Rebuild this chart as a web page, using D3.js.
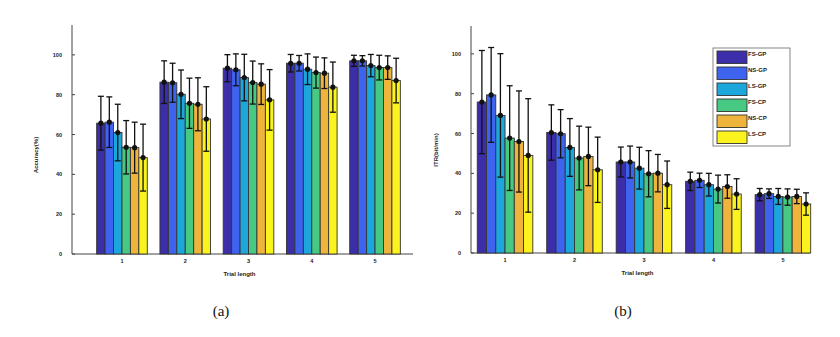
<!DOCTYPE html>
<html>
<head>
<meta charset="utf-8">
<script src="https://cdn.jsdelivr.net/npm/d3@7"></script>
<style>
  body { margin: 0; background: #fff; }
  svg { display: block; }
</style>
</head>
<body>
<div id="chart"></div>
<script>
// categories and series
const trialLengths = [1, 2, 3, 4, 5];
const methods = ['FS-GP', 'NS-GP', 'LS-GP', 'FS-CP', 'NS-CP', 'LS-CP'];
const methodColors = ['#3b2ea8', '#3e63ef', '#1ca7dc', '#47c983', '#eeb43c', '#faf31e'];
const yTicks = [0, 20, 40, 60, 80, 100];

// (a) accuracy, mean and error half-width per method, one value per trial length
const accMean = [
    [65.7, 86.3, 93.3, 95.8, 97.0],
    [66.2, 86.0, 92.5, 95.8, 97.0],
    [61.0, 80.2, 88.6, 92.8, 94.6],
    [53.6, 75.7, 86.1, 91.1, 93.6],
    [53.4, 75.2, 85.3, 90.8, 93.6],
    [48.4, 67.8, 77.4, 83.8, 87.1]
];
const accErr = [
    [13.5, 10.7, 6.8, 4.4, 2.8],
    [12.7, 9.8, 8.0, 3.9, 2.6],
    [14.2, 12.2, 11.7, 7.7, 5.6],
    [13.4, 12.6, 10.8, 7.8, 6.2],
    [12.8, 13.3, 10.2, 7.7, 5.9],
    [16.8, 16.2, 15.2, 12.6, 11.2]
];

// (b) ITR (bit/min)
const itrMean = [
    [75.8, 60.5, 45.7, 36.0, 29.3],
    [79.4, 59.9, 45.7, 36.5, 29.8],
    [69.1, 53.0, 42.6, 34.3, 28.4],
    [57.7, 47.7, 39.8, 32.1, 28.1],
    [56.0, 48.5, 40.1, 33.4, 28.4],
    [49.0, 41.8, 34.3, 29.6, 24.6]
];
const itrErr = [
    [25.9, 13.9, 7.5, 4.6, 3.1],
    [23.8, 12.1, 8.0, 3.6, 2.4],
    [31.0, 14.5, 10.5, 5.7, 4.0],
    [26.3, 16.0, 11.6, 7.0, 4.1],
    [25.4, 14.7, 9.4, 5.9, 3.6],
    [28.5, 16.4, 11.9, 7.7, 5.6]
];

const svg = d3.select('#chart').append('svg')
    .attr('width', 840)
    .attr('height', 337);

function drawPanel(cfg) {
    const g = svg.append('g');

    const x = d3.scaleLinear().domain(cfg.xDomain).range(cfg.xRange);
    const y = d3.scaleLinear().domain(cfg.yDomain).range(cfg.yRange);

    const spacing = x(2) - x(1);
    const groupW = spacing * 0.8;
    const barW = groupW / methods.length;

    // axis lines
    g.append('line')
        .attr('x1', x.range()[0]).attr('x2', x.range()[0])
        .attr('y1', y.range()[1]).attr('y2', y(0))
        .attr('stroke', '#444').attr('stroke-width', 1);
    g.append('line')
        .attr('x1', x.range()[0]).attr('x2', x.range()[1])
        .attr('y1', y(0)).attr('y2', y(0))
        .attr('stroke', '#444').attr('stroke-width', 1);

    // y ticks (inward) + labels
    g.selectAll('.ytick')
        .data(yTicks)
        .join('line')
            .attr('x1', x.range()[0]).attr('x2', x.range()[0] + 3)
            .attr('y1', d => y(d)).attr('y2', d => y(d))
            .attr('stroke', '#444');
    g.selectAll('.ylab')
        .data(yTicks)
        .join('text')
            .attr('x', x.range()[0] - 10)
            .attr('y', d => y(d) + 2)
            .attr('text-anchor', 'end')
            .attr('font-family', 'Liberation Sans, Arial, sans-serif')
            .attr('font-size', '5.5px')
            .attr('font-weight', 'bold')
            .attr('fill', '#222')
            .text(d => d);

    // x labels
    g.selectAll('.xlab')
        .data(trialLengths)
        .join('text')
            .attr('x', d => x(d))
            .attr('y', y(0) + 9)
            .attr('text-anchor', 'middle')
            .attr('font-family', 'Liberation Sans, Arial, sans-serif')
            .attr('font-size', '5.5px')
            .attr('font-weight', 'bold')
            .attr('fill', '#222')
            .text(d => d);

    // bars
    methods.forEach((m, i) => {
        const offset = -groupW / 2 + i * barW;
        const rows = trialLengths.map((t, j) => ({ t, v: cfg.mean[i][j], e: cfg.err[i][j] }));

        g.append('g').selectAll('rect')
            .data(rows)
            .join('rect')
                .attr('x', d => x(d.t) + offset)
                .attr('y', d => y(d.v))
                .attr('width', barW)
                .attr('height', d => y(0) - y(d.v))
                .attr('fill', methodColors[i])
                .attr('stroke', '#333')
                .attr('stroke-width', 0.9);

        const eg = g.append('g');
        const cx = d => x(d.t) + offset + barW / 2;
        eg.selectAll('.eb')
            .data(rows)
            .join('line')
                .attr('x1', cx).attr('x2', cx)
                .attr('y1', d => y(d.v + d.e)).attr('y2', d => y(d.v - d.e))
                .attr('stroke', '#111').attr('stroke-width', 1.3);
        ['+', '-'].forEach(s => {
            eg.selectAll('.cap' + (s === '+' ? 'u' : 'd'))
                .data(rows)
                .join('line')
                    .attr('x1', d => cx(d) - 3).attr('x2', d => cx(d) + 3)
                    .attr('y1', d => y(s === '+' ? d.v + d.e : d.v - d.e))
                    .attr('y2', d => y(s === '+' ? d.v + d.e : d.v - d.e))
                    .attr('stroke', '#111').attr('stroke-width', 1.3);
        });
        eg.selectAll('circle')
            .data(rows)
            .join('circle')
                .attr('cx', cx)
                .attr('cy', d => y(d.v))
                .attr('r', 2.6)
                .attr('fill', '#111');
    });

    // axis titles
    g.append('text')
        .attr('x', (x.range()[0] + x.range()[1]) / 2 - 3)
        .attr('y', y(0) + 22)
        .attr('text-anchor', 'middle')
        .attr('font-family', 'Liberation Sans, Arial, sans-serif')
        .attr('font-size', '6px')
        .attr('font-weight', 'bold')
        .attr('fill', '#222')
        .text('Trial length');
    g.append('text')
        .attr('transform', `translate(${cfg.yTitleX},${cfg.yTitleY}) rotate(-90)`)
        .attr('text-anchor', 'middle')
        .attr('font-family', 'Liberation Sans, Arial, sans-serif')
        .attr('font-size', '6px')
        .attr('font-weight', 'bold')
        .attr('fill', '#222')
        .text(cfg.yTitle);

    // caption
    g.append('text')
        .attr('x', cfg.captionX)
        .attr('y', 316)
        .attr('text-anchor', 'middle')
        .attr('font-family', 'Liberation Serif, Times New Roman, serif')
        .attr('font-size', '15px')
        .attr('fill', '#111')
        .text(cfg.caption);

    return g;
}

drawPanel({
    mean: accMean, err: accErr,
    xDomain: [0.21, 5.6], xRange: [72, 413],
    yDomain: [0, 115], yRange: [254, 25],
    yTitle: 'Accuracy(%)', yTitleX: 38, yTitleY: 155,
    caption: '(a)', captionX: 221
});

const gb = drawPanel({
    mean: itrMean, err: itrErr,
    xDomain: [0.51, 5.39], xRange: [471, 810],
    yDomain: [0, 114], yRange: [253, 26],
    yTitle: 'ITR(bit/min)', yTitleX: 438, yTitleY: 150,
    caption: '(b)', captionX: 623
});

// legend for (b)
const legend = gb.append('g').attr('transform', 'translate(713,48)');
legend.append('rect')
    .attr('width', 77).attr('height', 98)
    .attr('fill', '#fff')
    .attr('stroke', '#666').attr('stroke-width', 0.8);
legend.selectAll('.sw')
    .data(methods)
    .join('rect')
        .attr('x', 4)
        .attr('y', (d, i) => 3 + i * 16)
        .attr('width', 30).attr('height', 12.5)
        .attr('fill', (d, i) => methodColors[i])
        .attr('stroke', '#333').attr('stroke-width', 0.9);
legend.selectAll('.lt')
    .data(methods)
    .join('text')
        .attr('x', 35)
        .attr('y', (d, i) => 8 + i * 16)
        .attr('font-family', 'Liberation Sans, Arial, sans-serif')
        .attr('font-size', '6px')
        .attr('font-weight', 'bold')
        .attr('fill', '#222')
        .text(d => d);
</script>
</body>
</html>
